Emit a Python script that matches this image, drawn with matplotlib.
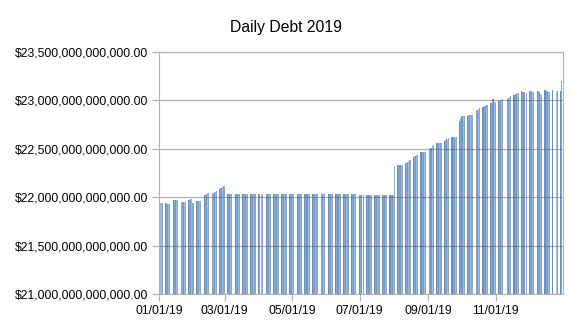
import numpy as np
import pandas as pd
import matplotlib
matplotlib.use("Agg")
import matplotlib.pyplot as plt
import matplotlib.dates as mdates
from matplotlib.ticker import FuncFormatter, MultipleLocator

plt.rcParams['font.family'] = ['Liberation Sans', 'DejaVu Sans']

# days with no figure published (holidays + one missing day)
closed = ['2019-01-01', '2019-01-21', '2019-02-18', '2019-04-03', '2019-05-27',
          '2019-07-04', '2019-09-02', '2019-10-14', '2019-11-11', '2019-11-28',
          '2019-12-24', '2019-12-25']

tick_dates = ['2019-01-01', '2019-03-01', '2019-05-01', '2019-07-01',
              '2019-09-01', '2019-11-01']

# total debt, billions of dollars, one value per published day
jan = [21940, 21935, 21935,
       21940, 21940, 21930, 21930, 21930,
       21970, 21970, 21968, 21968, 21968,
       21955, 21955, 21955, 21955,
       21970, 21975, 21980, 21980]
feb = [21940,
       21960, 21960, 21960, 21960, 21960,
       22020, 22025, 22030, 22040, 22040,
       22045, 22050, 22055, 22060,
       22080, 22090, 22100, 22110]
mar = [22120,
       22030, 22030, 22030, 22030, 22030,
       22030, 22030, 22030, 22030, 22030,
       22030, 22030, 22030, 22030, 22030,
       22030, 22030, 22030, 22030, 22030]
apr = [22030, 22030, 22030, 22030,
       22030, 22030, 22030, 22030, 22030,
       22030, 22030, 22030, 22030, 22030,
       22030, 22030, 22030, 22030, 22030,
       22030, 22030]
may = [22030, 22030, 22030,
       22030, 22030, 22030, 22030, 22030,
       22030, 22030, 22030, 22030, 22030,
       22030, 22030, 22030, 22030, 22030,
       22030, 22030, 22030, 22030]
jun = [22030, 22030, 22030, 22030, 22030,
       22030, 22030, 22030, 22030, 22030,
       22030, 22030, 22030, 22030, 22030,
       22030, 22030, 22030, 22030, 22030]
jul = [22025, 22025, 22025, 22025,
       22025, 22025, 22025, 22025, 22025,
       22025, 22025, 22025, 22025, 22025,
       22025, 22025, 22025, 22025, 22025,
       22025, 22025, 22025]
aug = [22025, 22320,
       22330, 22330, 22330, 22330, 22330,
       22350, 22355, 22365, 22375, 22380,
       22420, 22425, 22430, 22435, 22440,
       22465, 22470, 22470, 22470, 22470]
sep = [22500, 22510, 22530, 22540,
       22555, 22560, 22560, 22560, 22560,
       22585, 22590, 22600, 22605, 22610,
       22620, 22625, 22625, 22625, 22625,
       22790]
oct_ = [22820, 22835, 22840, 22840,
        22840, 22845, 22850, 22850, 22850,
        22900, 22905, 22915, 22920,
        22935, 22940, 22945, 22950, 22950,
        22970, 22975, 23010, 22980]
nov = [22980,
       22990, 22995, 23000, 23005, 23010,
       23010, 23020, 23035, 23045,
       23060, 23065, 23070, 23075, 23080,
       23095, 23090, 23085, 23080]
dec = [23100, 23100, 23095, 23090, 23090,
       23100, 23095, 23090, 23070, 23056,
       23110, 23100, 23095, 23090, 23090,
       23110, 23100, 23100,
       23100, 23200]

debt = np.array(jan + feb + mar + apr + may + jun + jul + aug + sep + oct_ + nov + dec)
dates = pd.bdate_range('2019-01-01', '2019-12-31', freq='C', holidays=closed)

# shading by weekday, like the gradient bars of the original
day_colors = ['#6b8fbb', '#8aa8cd', '#7698c2', '#a3bbd9', '#8aa8cd']
colors = [day_colors[d.weekday()] for d in dates]

fig = plt.figure(figsize=(5.73, 3.22), dpi=100)
ax = fig.add_axes([0.278, 0.087, 0.705, 0.7515])

ax.bar(dates - pd.Timedelta(days=1), debt, width=1.0, align='edge',
       color=colors, linewidth=0, zorder=2)

ax.set_ylim(21000, 23500)
ax.yaxis.set_major_locator(MultipleLocator(500))
ax.yaxis.set_major_formatter(FuncFormatter(lambda v, p: "${:,.2f}".format(v * 1e9)))
ax.grid(axis='y', color='#555555', alpha=0.45, linewidth=0.9, zorder=3)
ax.set_axisbelow(False)

ax.set_xlim(pd.Timestamp('2019-01-01'), pd.Timestamp('2020-01-01'))
ax.set_xticks(pd.to_datetime(tick_dates))
ax.xaxis.set_major_formatter(mdates.DateFormatter('%m/%d/%y'))

for s in ax.spines.values():
    s.set_color('#b3b3b3')
    s.set_zorder(4)
ax.tick_params(colors='#b3b3b3', labelcolor='#000000', labelsize=8.7,
               length=5, width=0.9)
ax.tick_params(axis='x', pad=3)
ax.tick_params(axis='y', pad=3)

fig.text(0.5, 1 - 27.5 / 322, 'Daily Debt 2019', ha='center', va='center',
         fontsize=11.3)

fig.savefig('out.png', dpi=100)
